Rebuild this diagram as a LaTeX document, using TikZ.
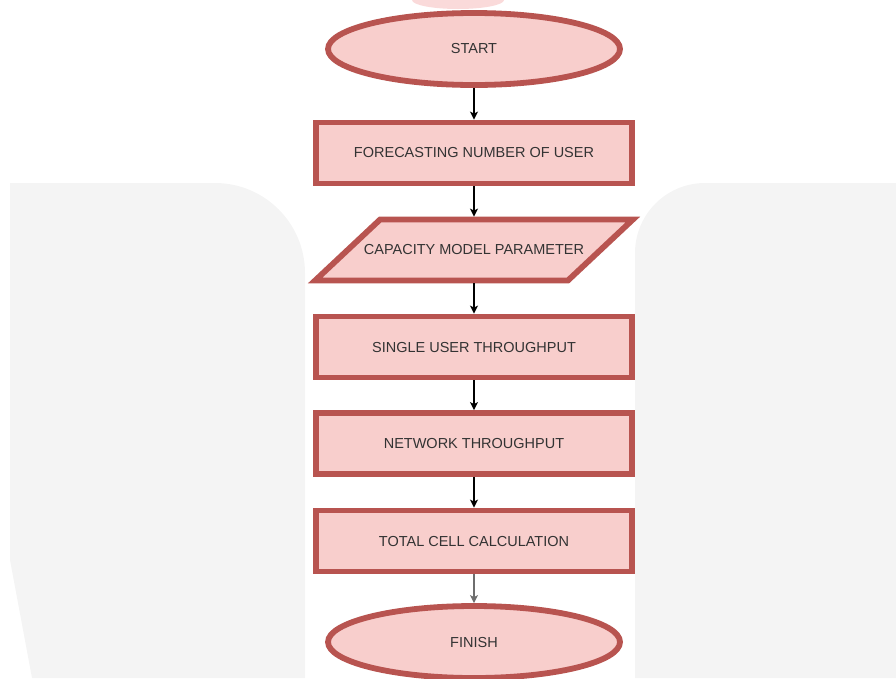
\documentclass[tikz,border=0pt]{standalone}
\usepackage{fontspec}
\setmainfont{Liberation Sans}
\usetikzlibrary{shapes.geometric,arrows.meta}
\definecolor{boxline}{HTML}{B85450}
\definecolor{boxfill}{HTML}{F8CECC}
\definecolor{txt}{HTML}{333333}
\definecolor{panel}{HTML}{F4F4F4}
\definecolor{blob}{HTML}{FADADA}
\definecolor{greyarrow}{HTML}{6E6E6E}
\tikzset{
  procbox/.style={rectangle, draw=boxline, fill=boxfill, line width=5.8pt,
    minimum width=316pt, minimum height=61pt, inner sep=0pt,
    text=txt, font=\fontsize{14.5}{17}\selectfont},
  termbox/.style={ellipse, draw=boxline, fill=boxfill, line width=5.8pt,
    minimum width=292pt, minimum height=72pt, inner sep=0pt,
    text=txt, font=\fontsize{14.5}{17}\selectfont},
  iotext/.style={rectangle, minimum width=247pt, minimum height=61pt, inner sep=0pt,
    outer sep=2.9pt, text=txt, font=\fontsize{14.5}{17}\selectfont},
  iobox/.style={draw=boxline, fill=boxfill, line width=5.8pt, line join=miter},
  flow/.style={line width=1.3pt, -{Stealth[length=8pt,width=8pt,inset=2pt]}},
}
\begin{document}
\begin{tikzpicture}[x=1pt,y=-1pt]
\useasboundingbox (0,0) rectangle (896,678);
% background panels
\fill[panel] (32,678) -- (10,560) -- (10,183) -- (215,183)
  .. controls (264.7,183) and (305,223.3) .. (305,273) -- (305,678) -- cycle;
\fill[panel] (635,678) -- (635,253) .. controls (635,214.3) and (666.3,183) .. (705,183)
  -- (896,183) -- (896,678) -- cycle;
\fill[blob] (458,0) ellipse [x radius=46, y radius=9];
% nodes
\node[termbox] (start) at (474,49) {START};
\node[procbox] (fore) at (474,153) {FORECASTING NUMBER OF USER};
\node[iotext] (cap) at (474,250) {};
\draw[iobox] ([xshift=-32.5pt,yshift=2.9pt]cap.south west) -- ([xshift=32.5pt,yshift=-2.9pt]cap.north west)
  -- ([xshift=32.5pt,yshift=-2.9pt]cap.north east) -- ([xshift=-32.5pt,yshift=2.9pt]cap.south east) -- cycle;
\node[iotext] at (cap) {CAPACITY MODEL PARAMETER};
\node[procbox] (single) at (474,347) {SINGLE USER THROUGHPUT};
\node[procbox] (net) at (474,443.5) {NETWORK THROUGHPUT};
\node[procbox] (total) at (474,541) {TOTAL CELL CALCULATION};
\node[termbox] (finish) at (474,642) {FINISH};
% connectors
\draw[flow] (start) -- (fore);
\draw[flow] (fore) -- (cap);
\draw[flow] (cap) -- (single);
\draw[flow] (single) -- (net);
\draw[flow] (net) -- (total);
\draw[flow, draw=greyarrow, fill=greyarrow] (total) -- (finish);
\end{tikzpicture}
\end{document}
